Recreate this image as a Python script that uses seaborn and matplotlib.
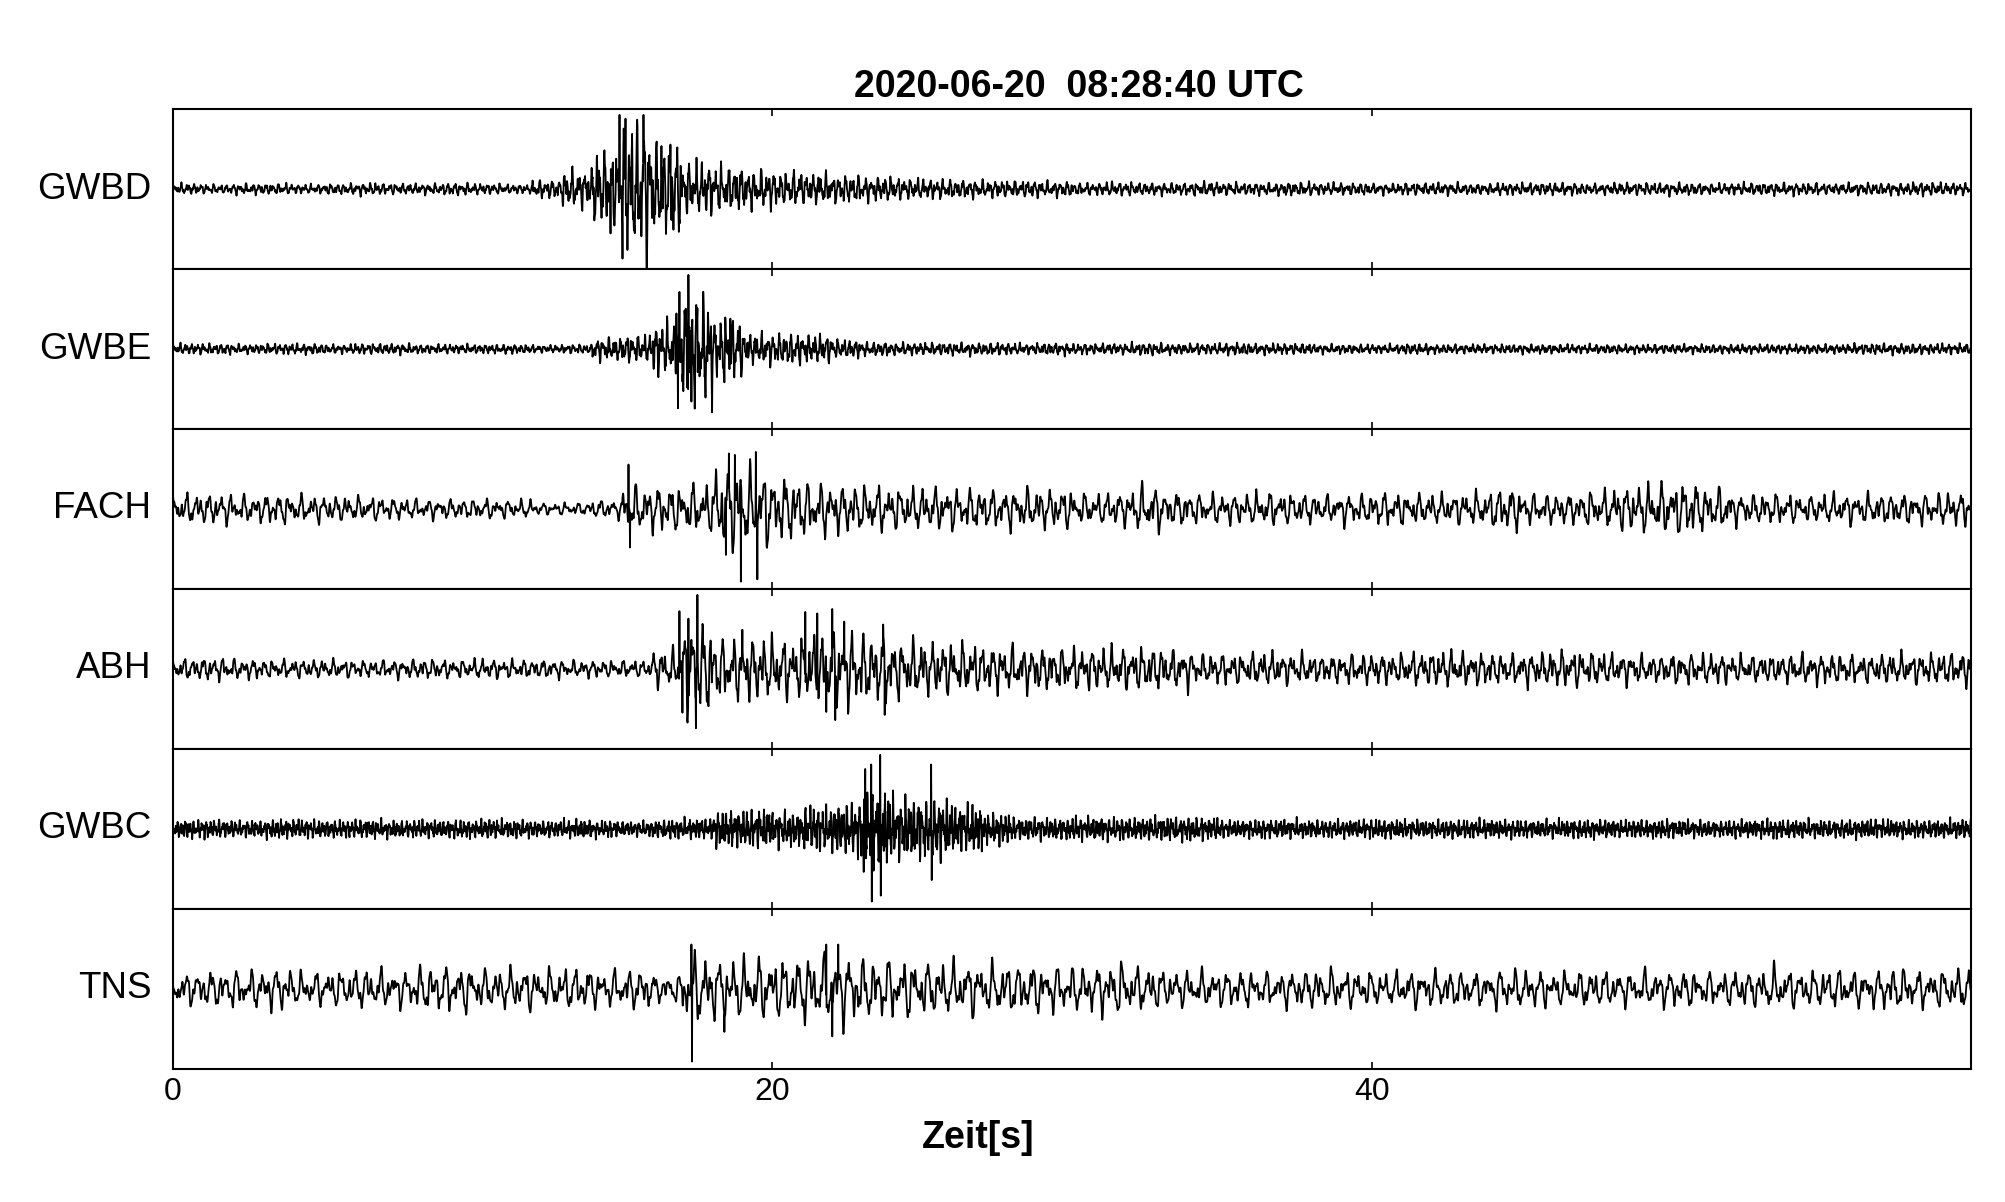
import numpy as np
import matplotlib
matplotlib.use("Agg")
import matplotlib.pyplot as plt
import seaborn as sns

# stations, top to bottom
stations = ["GWBD", "GWBE", "FACH", "ABH", "GWBC", "TNS"]

# amplitude envelope per 1 s bin (0..59 s), normalised to the largest peak of each trace
gwbd_env = [0.07, 0.06, 0.07, 0.07, 0.06, 0.07, 0.08, 0.07, 0.07, 0.08,
            0.07, 0.06, 0.12, 0.25, 0.50, 0.90, 0.60, 0.35, 0.30, 0.25,
            0.22, 0.20, 0.18, 0.16, 0.14, 0.13, 0.12, 0.11, 0.11, 0.10,
            0.08, 0.09, 0.08, 0.08, 0.09, 0.08, 0.08, 0.09, 0.08, 0.08,
            0.07, 0.08, 0.08, 0.07, 0.08, 0.08, 0.08, 0.07, 0.08, 0.08,
            0.08, 0.07, 0.08, 0.08, 0.08, 0.07, 0.08, 0.08, 0.09, 0.08]
gwbe_env = [0.07, 0.07, 0.06, 0.07, 0.07, 0.06, 0.07, 0.07, 0.06, 0.06,
            0.06, 0.06, 0.05, 0.06, 0.15, 0.18, 0.35, 0.70, 0.40, 0.20,
            0.20, 0.18, 0.12, 0.09, 0.08, 0.08, 0.08, 0.08, 0.07, 0.08,
            0.07, 0.07, 0.08, 0.07, 0.07, 0.08, 0.07, 0.07, 0.06, 0.06,
            0.06, 0.07, 0.06, 0.06, 0.06, 0.06, 0.06, 0.06, 0.06, 0.06,
            0.06, 0.06, 0.06, 0.06, 0.06, 0.06, 0.07, 0.07, 0.07, 0.07]
fach_env = [0.20, 0.20, 0.18, 0.20, 0.18, 0.17, 0.16, 0.14, 0.13, 0.13,
            0.13, 0.12, 0.08, 0.08, 0.12, 0.30, 0.30, 0.32, 0.55, 0.50,
            0.42, 0.35, 0.32, 0.30, 0.28, 0.28, 0.27, 0.26, 0.27, 0.26,
            0.20, 0.22, 0.30, 0.22, 0.20, 0.20, 0.22, 0.20, 0.18, 0.20,
            0.22, 0.20, 0.20, 0.22, 0.28, 0.20, 0.20, 0.24, 0.30, 0.33,
            0.35, 0.28, 0.20, 0.20, 0.18, 0.20, 0.20, 0.20, 0.20, 0.22]
abh_env = [0.14, 0.15, 0.13, 0.12, 0.12, 0.12, 0.11, 0.12, 0.13, 0.12,
           0.13, 0.12, 0.12, 0.11, 0.11, 0.11, 0.25, 0.60, 0.40, 0.42,
           0.40, 0.45, 0.50, 0.45, 0.38, 0.35, 0.33, 0.30, 0.30, 0.28,
           0.28, 0.28, 0.28, 0.26, 0.20, 0.20, 0.22, 0.20, 0.18, 0.20,
           0.20, 0.22, 0.24, 0.22, 0.20, 0.22, 0.24, 0.22, 0.20, 0.18,
           0.20, 0.20, 0.18, 0.18, 0.20, 0.20, 0.18, 0.20, 0.20, 0.22]
gwbc_env = [0.12, 0.12, 0.11, 0.12, 0.12, 0.12, 0.12, 0.11, 0.12, 0.12,
            0.12, 0.12, 0.11, 0.12, 0.11, 0.10, 0.12, 0.13, 0.25, 0.25,
            0.22, 0.30, 0.35, 0.50, 0.40, 0.40, 0.30, 0.20, 0.15, 0.14,
            0.15, 0.15, 0.15, 0.15, 0.15, 0.12, 0.12, 0.12, 0.12, 0.12,
            0.12, 0.12, 0.12, 0.12, 0.12, 0.12, 0.12, 0.12, 0.12, 0.12,
            0.11, 0.11, 0.12, 0.12, 0.12, 0.12, 0.12, 0.12, 0.12, 0.12]
tns_env = [0.22, 0.24, 0.25, 0.28, 0.22, 0.24, 0.26, 0.24, 0.30, 0.30,
           0.26, 0.28, 0.26, 0.28, 0.24, 0.26, 0.18, 0.45, 0.40, 0.40,
           0.40, 0.45, 0.45, 0.40, 0.38, 0.35, 0.35, 0.33, 0.32, 0.30,
           0.30, 0.35, 0.28, 0.24, 0.24, 0.24, 0.22, 0.24, 0.26, 0.24,
           0.22, 0.24, 0.24, 0.22, 0.26, 0.24, 0.22, 0.24, 0.22, 0.24,
           0.24, 0.22, 0.24, 0.28, 0.24, 0.26, 0.24, 0.28, 0.24, 0.26]

# largest single peaks: (time s, normalised amplitude)
gwbd_peaks = [(14.6, -0.60), (14.9, 1.00), (15.0, -0.94), (15.1, 0.95),
              (15.7, 1.00), (16.3, 0.58), (16.6, 0.60), (16.7, -0.55)]
gwbe_peaks = [(16.8, 0.48), (16.85, -0.80), (16.9, 0.77), (17.2, 1.00),
              (17.3, -0.71), (17.5, 0.55), (18.0, -0.35), (18.4, -0.45), (18.6, 0.41)]
fach_peaks = [(15.2, 0.60), (15.25, -0.52), (18.45, -0.62), (18.55, 0.75),
              (18.75, 0.73), (18.95, -0.98), (19.45, 0.77), (19.5, -0.95)]
abh_peaks = [(16.9, 0.78), (17.0, -0.59), (17.2, 0.68), (17.45, -0.80), (17.5, 1.00),
             (19.0, 0.53), (21.1, 0.77), (21.5, 0.75), (21.8, -0.58), (22.0, 0.81),
             (22.1, -0.69), (22.4, 0.64), (23.7, 0.60), (23.75, -0.62)]
gwbc_peaks = [(23.05, -0.58), (23.1, 0.81), (23.3, 0.87), (23.32, -0.98),
              (23.6, 1.00), (23.62, -0.90), (25.3, 0.87), (25.32, -0.69)]
tns_peaks = [(17.3, 0.60), (17.32, -0.98), (18.4, -0.58), (21.8, 0.60),
             (22.0, -0.64), (22.2, 0.60)]

envelopes = [gwbd_env, gwbe_env, fach_env, abh_env, gwbc_env, tns_env]
peaks = [gwbd_peaks, gwbe_peaks, fach_peaks, abh_peaks, gwbc_peaks, tns_peaks]

# dominant wiggle frequency of each trace (Hz), used to draw the oscillation
base_hz = [4.6, 5.1, 2.6, 3.0, 7.2, 2.3]

title = "2020-06-20  08:28:40 UTC"
xlabel = "Zeit[s]"
xticks = [0, 20, 40]

sns.set_theme(style="ticks")
plt.rcParams["font.family"] = ["Liberation Sans", "DejaVu Sans"]
plt.rcParams["text.color"] = "black"
plt.rcParams["xtick.color"] = "black"

dt = 0.01
t = np.arange(0, 60, dt)
ratios = [1.0, 1.618, 2.414, 3.732, 6.083]
weights = [0.55, 0.40, 0.30, 0.22, 0.16]

fig, axes = plt.subplots(6, 1, sharex=True, figsize=(20.05, 12.02), dpi=100)
fig.subplots_adjust(left=0.0863, right=0.983, top=0.9093, bottom=0.1107, hspace=0)

for i, ax in enumerate(axes):
    env = np.array(envelopes[i])[np.minimum(t.astype(int), 59)]
    wave = np.zeros_like(t)
    for k, (r, w) in enumerate(zip(ratios, weights)):
        wave += w * np.sin(2 * np.pi * base_hz[i] * r * t + 0.7 * k + 0.4 * i)
    y = env * wave / 1.15
    for pt, pv in peaks[i]:
        y[int(round(pt / dt))] = pv
    sns.lineplot(x=t, y=y, ax=ax, color="black", linewidth=1.3,
                 estimator=None, errorbar=None)

    ax.set_xlim(0, 60)
    ax.set_ylim(-1.08, 1.08)
    ax.set_yticks([])
    ax.set_ylabel("")
    ax.set_xticks(xticks)
    ax.tick_params(axis="x", direction="in", top=True, bottom=True,
                   length=5, width=1.2, color="black", labelsize=23, pad=6,
                   labelbottom=(i == len(axes) - 1))
    for sp in ax.spines.values():
        sp.set_color("black")
        sp.set_linewidth(1.5)
    ax.text(-0.012, 0.5, stations[i], transform=ax.transAxes,
            ha="right", va="center", fontsize=26.5, color="black")

axes[0].set_title(title, fontsize=27, fontweight="bold", pad=9, x=0.504, color="black")
axes[-1].set_xlabel(xlabel, fontsize=27, fontweight="bold", va="center", color="black")
axes[-1].xaxis.set_label_coords(0.448, -0.43)

fig.savefig("out.png", dpi=100)
